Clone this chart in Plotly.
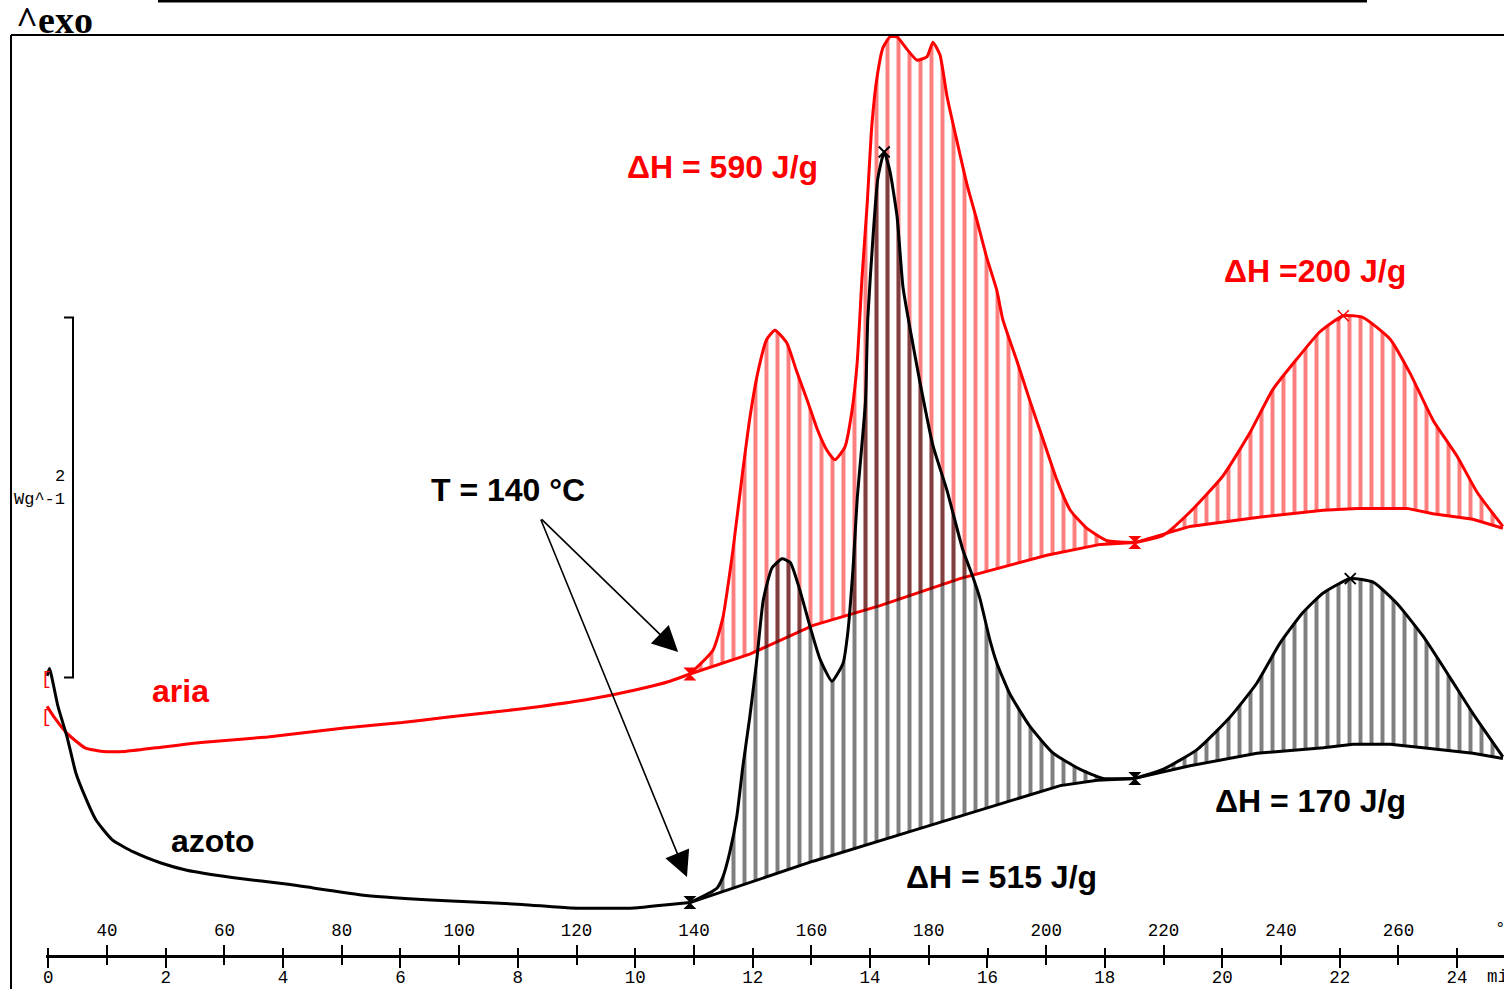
import plotly.graph_objects as go

# ---------------- data: temperature (°C) vs heat flow (W/g) ----------------
# azoto (nitrogen) - black
azoto_pre_T = [29.8, 30.2, 31.65, 33.2, 34.7, 36.25, 38.1, 40.85, 44.6, 49.2, 53.6, 61.3, 71.2,
               84.1, 97.8, 110.7, 119.0, 129.8, 135.9, 139.3]
azoto_pre_W = [1.74, 1.78, 1.57, 1.40, 1.20, 1.07, 0.94, 0.83, 0.76, 0.70, 0.66, 0.62, 0.58,
               0.52, 0.49, 0.47, 0.45, 0.45, 0.47, 0.48]
azoto_p1_T = [139.3, 143.9, 144.9, 146.1, 147.3, 148.3, 149.5, 150.7, 151.8, 153.3,
              155.0, 156.4, 158.0, 159.8, 161.5, 163.5, 165.4, 166.2, 167.1, 167.8,
              169.2, 169.6, 170.5, 171.3, 172.4, 173.4, 174.6, 175.6, 176.8, 178.5,
              180.7, 183.1, 185.8, 187.5, 188.7, 190.4, 191.6, 193.8, 197.2, 201.2,
              205.8, 209.7, 215.1]
azoto_p1_W = [0.48, 0.56, 0.62, 0.76, 0.96, 1.23, 1.51, 1.83, 2.16, 2.34,
              2.39, 2.37, 2.22, 2.01, 1.83, 1.71, 1.81, 1.98, 2.34, 2.72,
              3.26, 3.72, 4.18, 4.50, 4.65, 4.54, 4.29, 3.90, 3.67, 3.37,
              3.02, 2.77, 2.44, 2.29, 2.17, 1.94, 1.81, 1.64, 1.46, 1.31,
              1.22, 1.17, 1.17]
azoto_p2_T = [215.1, 219.9, 225.7, 231.3, 235.9, 239.8, 243.7, 247.2, 251.8, 255.7,
              259.8, 264.2, 268.8, 272.7, 277.8]
azoto_p2_W = [1.17, 1.22, 1.33, 1.51, 1.70, 1.92, 2.09, 2.20, 2.28, 2.26,
              2.14, 1.96, 1.73, 1.53, 1.29]
azoto_bl1_T = [139.3, 160.3, 177.3, 194.3, 202.4, 208.7, 215.1]
azoto_bl1_W = [0.48, 0.71, 0.88, 1.05, 1.13, 1.16, 1.17]
azoto_bl2_T = [215.1, 224.5, 235.9, 247.2, 252.3, 258.6, 264.2, 272.7, 277.8]
azoto_bl2_W = [1.17, 1.24, 1.31, 1.34, 1.36, 1.36, 1.34, 1.31, 1.28]

# aria (air) - red
aria_pre_T = [29.8, 31.0, 33.2, 36.25, 39.3, 43.1, 48.35, 56.0, 67.4, 80.4, 90.3, 97.8,
              106.3, 113.8, 122.1, 129.8, 135.9, 139.3]
aria_pre_W = [1.57, 1.51, 1.42, 1.34, 1.32, 1.32, 1.34, 1.37, 1.40, 1.45, 1.48, 1.51,
              1.54, 1.57, 1.61, 1.66, 1.71, 1.75]
aria_p1_T = [139.3, 143.2, 144.9, 146.6, 148.2, 149.5, 150.9, 152.4, 153.8, 155.8,
             157.5, 159.3, 161.0, 162.7, 164.0, 165.7, 166.9, 167.8, 168.6, 169.5,
             170.3, 171.2, 172.2, 173.4, 174.6, 176.3, 178.0, 179.7, 180.7, 181.9,
             183.1, 184.8, 186.5, 188.2, 189.9, 191.6, 192.6, 195.0, 197.2, 199.5,
             201.8, 204.1, 206.9, 210.4, 215.1]
aria_p1_W = [1.75, 1.88, 2.06, 2.43, 2.85, 3.17, 3.43, 3.61, 3.66, 3.59,
             3.43, 3.27, 3.11, 2.99, 2.94, 3.01, 3.21, 3.48, 3.94, 4.36,
             4.80, 5.07, 5.23, 5.29, 5.29, 5.22, 5.16, 5.18, 5.26, 5.19,
             4.96, 4.71, 4.47, 4.27, 4.06, 3.88, 3.72, 3.49, 3.27, 3.05,
             2.83, 2.66, 2.56, 2.49, 2.48]
aria_p2_T = [215.1, 219.9, 224.5, 230.1, 234.7, 238.6, 242.7, 246.6, 250.6, 254.0,
             258.6, 262.0, 265.9, 270.0, 273.4, 277.8]
aria_p2_W = [2.48, 2.52, 2.65, 2.85, 3.09, 3.33, 3.50, 3.65, 3.74, 3.73,
             3.61, 3.42, 3.16, 2.96, 2.76, 2.57]
aria_bl1_T = [139.3, 149.5, 160.3, 171.7, 185.3, 200.1, 209.2, 215.1]
aria_bl1_W = [1.75, 1.86, 2.02, 2.13, 2.28, 2.41, 2.47, 2.48]
aria_bl2_T = [215.1, 224.5, 235.9, 247.2, 253.0, 261.5, 265.9, 272.7, 277.8]
aria_bl2_W = [2.48, 2.57, 2.62, 2.66, 2.67, 2.67, 2.64, 2.61, 2.56]

# peak / limit markers
azoto_peak_T = [172.4, 251.8]
azoto_peak_W = [4.65, 2.28]
aria_peak_T = [250.6]
aria_peak_W = [3.74]
limits_T = [139.3, 215.1]
azoto_limit_W = [0.48, 1.17]
aria_limit_W = [1.75, 2.48]

# axis ticks
temp_ticks = [40, 60, 80, 100, 120, 140, 160, 180, 200, 220, 240, 260]
temp_minor = [30, 50, 70, 90, 110, 130, 150, 170, 190, 210, 230, 250, 270]
time_ticks = [0, 2, 4, 6, 8, 10, 12, 14, 16, 18, 20, 22, 24]
time_minor = [1, 3, 5, 7, 9, 11, 13, 15, 17, 19, 21, 23]

scale_bar_value = 2.0      # W/g
scale_bar_bottom = 1.73

# labels
dH_labels = ["ΔH = 590 J/g", "ΔH =200 J/g", "ΔH = 515 J/g", "ΔH = 170 J/g"]

# ---------------- figure ----------------
W_PX, H_PX = 1504, 989
RED = "#ff0000"
BLACK = "#000000"
SANS = "Liberation Sans, Arial, sans-serif"
MONO = "Liberation Mono, Courier New, monospace"
LW = 3

fig = go.Figure()


def add_region(bl_T, bl_W, c_T, c_W, color):
    fig.add_trace(go.Scatter(x=bl_T, y=bl_W, mode="lines",
                             line=dict(color=color, width=LW), hoverinfo="skip"))
    fig.add_trace(go.Scatter(x=c_T, y=c_W, mode="lines", fill="tonexty",
                             fillcolor="rgba(0,0,0,0)",
                             fillpattern=dict(shape="|", size=11, solidity=0.36,
                                              fgcolor=color, bgcolor="rgba(0,0,0,0)"),
                             line=dict(color=color, width=LW, shape="spline", smoothing=0.5),
                             hoverinfo="skip"))


# aria (red) first
fig.add_trace(go.Scatter(x=aria_pre_T, y=aria_pre_W, mode="lines",
                         line=dict(color=RED, width=LW, shape="spline", smoothing=0.5),
                         hoverinfo="skip"))
add_region(aria_bl1_T, aria_bl1_W, aria_p1_T, aria_p1_W, RED)
add_region(aria_bl2_T, aria_bl2_W, aria_p2_T, aria_p2_W, RED)

# azoto (black)
fig.add_trace(go.Scatter(x=azoto_pre_T, y=azoto_pre_W, mode="lines",
                         line=dict(color=BLACK, width=LW, shape="spline", smoothing=0.5),
                         hoverinfo="skip"))
add_region(azoto_bl1_T, azoto_bl1_W, azoto_p1_T, azoto_p1_W, BLACK)
add_region(azoto_bl2_T, azoto_bl2_W, azoto_p2_T, azoto_p2_W, BLACK)

# markers
fig.add_trace(go.Scatter(x=azoto_peak_T, y=azoto_peak_W, mode="markers",
                         marker=dict(symbol="x-thin", size=11, line=dict(color=BLACK, width=2)),
                         hoverinfo="skip"))
fig.add_trace(go.Scatter(x=aria_peak_T, y=aria_peak_W, mode="markers",
                         marker=dict(symbol="x-thin", size=11, line=dict(color=RED, width=1.5)),
                         hoverinfo="skip"))
fig.add_trace(go.Scatter(x=limits_T, y=azoto_limit_W, mode="markers",
                         marker=dict(symbol="hourglass", size=13, color=BLACK), hoverinfo="skip"))
fig.add_trace(go.Scatter(x=limits_T, y=aria_limit_W, mode="markers",
                         marker=dict(symbol="hourglass", size=13, color=RED), hoverinfo="skip"))

# scale bar (2 W/g)
sb_x0 = 32.67
sb_x1 = 34.21
fig.add_trace(go.Scatter(x=[sb_x0, sb_x1, sb_x1, sb_x0],
                         y=[scale_bar_bottom + scale_bar_value, scale_bar_bottom + scale_bar_value,
                            scale_bar_bottom, scale_bar_bottom],
                         mode="lines", line=dict(color=BLACK, width=2), hoverinfo="skip"))

# dummy trace for time axis
fig.add_trace(go.Scatter(x=time_ticks, y=[None] * len(time_ticks), xaxis="x2", yaxis="y",
                         mode="markers", hoverinfo="skip"))

annotations = []


def txt(x, y, s, color, size=32, family=SANS, weight="bold", xanchor="center", xref="x", yref="y"):
    annotations.append(dict(x=x, y=y, xref=xref, yref=yref, text=s, showarrow=False,
                            xanchor=xanchor, yanchor="middle",
                            font=dict(family=family, size=size, color=color, weight=weight)))


txt(144.8, 4.565, dH_labels[0], RED)
txt(245.8, 3.99, dH_labels[1], RED)
txt(192.3, 0.62, dH_labels[2], BLACK)
txt(245.1, 1.045, dH_labels[3], BLACK)
txt(108.3, 2.775, "T = 140 °C", BLACK)
txt(52.6, 1.655, "aria", RED)
txt(58.0, 0.82, "azoto", BLACK)

# start brackets (red)
txt(29.7, 1.72, "[", RED, size=18, family=MONO, weight="normal")
txt(29.7, 1.51, "[", RED, size=18, family=MONO, weight="normal")

# scale labels
txt(67 / W_PX, 2.85, str(int(scale_bar_value)), BLACK, size=17, family=MONO, weight="normal",
    xanchor="right", xref="paper")
txt(67 / W_PX, 2.717, "Wg^-1", BLACK, size=17, family=MONO, weight="normal",
    xanchor="right", xref="paper")

# ^exo
annotations.append(dict(x=14 / W_PX, y=1 - 20 / H_PX, xref="paper", yref="paper", text="^exo",
                        showarrow=False, xanchor="left", yanchor="middle",
                        font=dict(family="Liberation Serif, Times New Roman, serif", size=38,
                                  color=BLACK, weight="bold")))
# unit labels at right end of axis
annotations.append(dict(x=1493 / W_PX, y=1 - 929 / H_PX, xref="paper", yref="paper", text="°C",
                        showarrow=False, xanchor="left", yanchor="middle",
                        font=dict(family=MONO, size=17.5, color=BLACK)))
annotations.append(dict(x=1485 / W_PX, y=1 - 977 / H_PX, xref="paper", yref="paper", text="min",
                        showarrow=False, xanchor="left", yanchor="middle",
                        font=dict(family=MONO, size=17.5, color=BLACK)))

# arrows from the T = 140 °C label
for tip_T, tip_W in [(137.3, 1.872), (138.8, 0.622)]:
    annotations.append(dict(x=tip_T, y=tip_W, ax=113.8, ay=2.617, xref="x", yref="y",
                            axref="x", ayref="y", text="", showarrow=True, arrowhead=2,
                            arrowsize=3.2, arrowwidth=1.6, arrowcolor=BLACK))

shapes = [
    # frame left and top
    dict(type="line", xref="paper", yref="paper", x0=11 / W_PX, x1=11 / W_PX,
         y0=0, y1=1 - 35 / H_PX, line=dict(color=BLACK, width=2)),
    dict(type="line", xref="paper", yref="paper", x0=11 / W_PX, x1=1,
         y0=1 - 35 / H_PX, y1=1 - 35 / H_PX, line=dict(color=BLACK, width=2)),
    # header line
    dict(type="line", xref="paper", yref="paper", x0=158 / W_PX, x1=1367 / W_PX,
         y0=1 - 1 / H_PX, y1=1 - 1 / H_PX, line=dict(color=BLACK, width=3)),
]

axis_pos = 33 / H_PX
tick_common = dict(showline=True, linecolor=BLACK, linewidth=2.5, showgrid=False, zeroline=False,
                   ticks="outside", ticklen=10, tickwidth=2, tickcolor=BLACK,
                   tickfont=dict(family=MONO, size=17.5, color=BLACK), automargin=False,
                   anchor="free", position=axis_pos, tickmode="array")

fig.update_layout(
    width=W_PX, height=H_PX,
    margin=dict(l=0, r=0, t=0, b=0, pad=0, autoexpand=False),
    paper_bgcolor="white", plot_bgcolor="white",
    showlegend=False,
    xaxis=dict(domain=[46 / W_PX, 1], range=[29.61, 277.99], side="top",
               tickvals=temp_ticks, ticktext=[str(t) for t in temp_ticks],
               ticklabelstandoff=2,
               minor=dict(tickmode="array", tickvals=temp_minor, ticks="outside", ticklen=7,
                          tickwidth=2, tickcolor=BLACK),
               **tick_common),
    xaxis2=dict(overlaying="x", range=[-0.039, 24.80], side="bottom",
                tickvals=time_ticks, ticktext=[str(t) for t in time_ticks],
                ticklabelstandoff=-6,
                minor=dict(tickmode="array", tickvals=time_minor, ticks="outside", ticklen=7,
                           tickwidth=2, tickcolor=BLACK),
                **tick_common),
    yaxis=dict(domain=[0, 1], range=[0, H_PX / 180], visible=False, fixedrange=True,
               automargin=False),
    annotations=annotations,
    shapes=shapes,
)

fig.write_html("out.html", config={"displayModeBar": False},
               post_script="document.body.style.margin='0';document.body.style.overflow='hidden';")
